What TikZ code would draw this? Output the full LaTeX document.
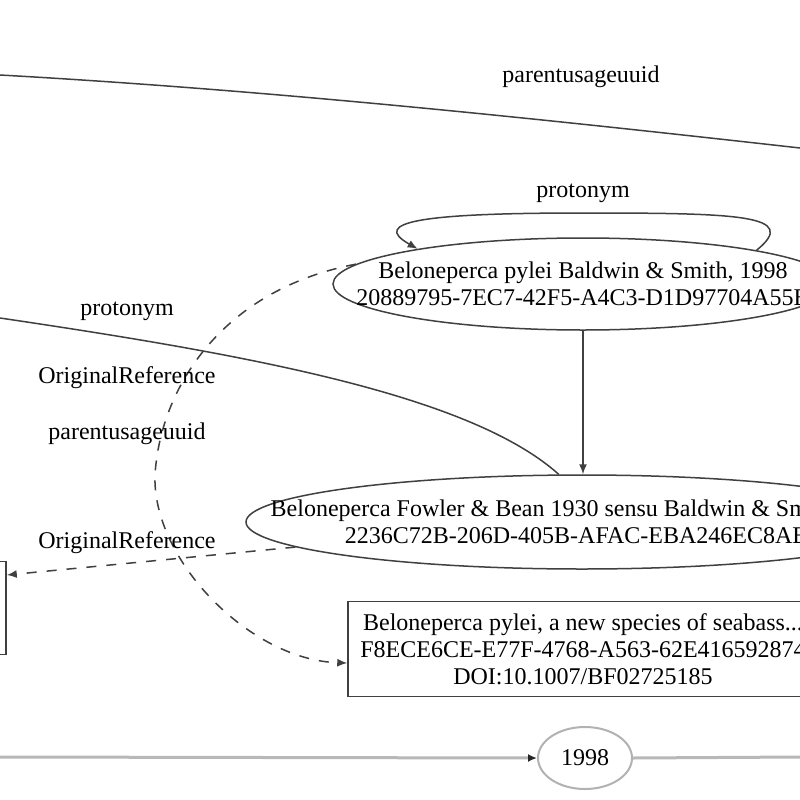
\documentclass[tikz,border=0pt]{standalone}
\usepackage{fontspec}
\setmainfont{Liberation Serif}
\usetikzlibrary{shapes.geometric,arrows.meta,calc}
\newcommand{\nfont}{\fontsize{24}{27}\selectfont}
\tikzset{
  ell/.style={ellipse, draw=black!75, line width=1.5pt, inner sep=0pt},
  rbox/.style={rectangle, draw=black!75, line width=1.5pt, inner sep=0pt},
  ntext/.style={font=\nfont, align=center, inner sep=0pt},
  lab/.style={font=\nfont, inner sep=0pt},
  edge/.style={draw=black!75, line width=1.5pt},
  heavy/.style={draw=black!28, line width=3pt},
  arr/.style={-{Latex[length=10pt,width=8pt]}},
  darr/.style={-{Latex[length=9pt,width=8pt,color=black!85]}},
  dsh/.style={dash pattern=on 10pt off 10pt},
}
\begin{document}
\begin{tikzpicture}[x=1pt,y=-1pt]
\useasboundingbox (0,0) rectangle (800,800);
\clip (0,0) rectangle (800,800);
\fill[white] (0,0) rectangle (800,800);

% nodes
\node[ell, minimum width=500pt, minimum height=92pt,
  label={[ntext]center:{Beloneperca pylei Baldwin \& Smith, 1998\\20889795-7EC7-42F5-A4C3-D1D97704A55B}}]
  (A) at (583,284) {};
\node[ell, minimum width=672pt, minimum height=94pt,
  label={[ntext]center:{Beloneperca Fowler \& Bean 1930 sensu Baldwin \& Smith, 1998\\2236C72B-206D-405B-AFAC-EBA246EC8AE5}}]
  (B) at (582,522) {};
\node[rbox, minimum width=470pt, minimum height=95pt,
  label={[ntext]center:{Beloneperca pylei, a new species of seabass...\\F8ECE6CE-E77F-4768-A563-62E416592874\\DOI:10.1007/BF02725185}}]
  (C) at (583,649) {};
\node[rbox, minimum width=212pt, minimum height=93pt] (D) at (-100,608) {};
\node[ell, draw=black!30, line width=2pt, minimum width=94pt, minimum height=62pt, font=\nfont] (E) at (585,758) {1998};

% free ends
\coordinate (tl) at (0,75);
\coordinate (tr) at (800,148);
\coordinate (pl) at (0,318);
\coordinate (bl) at (0,757);
\coordinate (br) at (800,757);

% edges
\draw[edge] (tl) .. controls (267,90) and (533,118) .. (tr);
\draw[edge, arr] (A.11) .. controls (800,215) and (740,213) .. (583,213)
   .. controls (420,213) and (370,222) .. (A.168);
\draw[edge, arr] (A.south) -- (A.south |- B.north);
\draw[edge] (pl) .. controls (250,355) and (470,395) .. (B.116);
\draw[edge, dsh, arr] (A.175) .. controls (220,290) and (160,390) .. (155,475)
   .. controls (152,560) and (250,660) .. ($(C.west)+(0,14)$);
\draw[edge, dsh, arr] (B.185) -- ($(D.east)+(0,-33)$);
\draw[heavy, darr] (bl) -- (E.west);
\draw[heavy] (E.east) -- (br);

% labels
\node[lab] (l1) at (581,77) {parentusageuuid};
\node[lab] (l2) at (583,193) {protonym};
\node[lab] (l3) at (127,311) {protonym};
\node[lab] (l4) at (127,378) {OriginalReference};
\node[lab] (l5) at (127,434) {parentusageuuid};
\node[lab] (l6) at (127,543) {OriginalReference};
\end{tikzpicture}
\end{document}
